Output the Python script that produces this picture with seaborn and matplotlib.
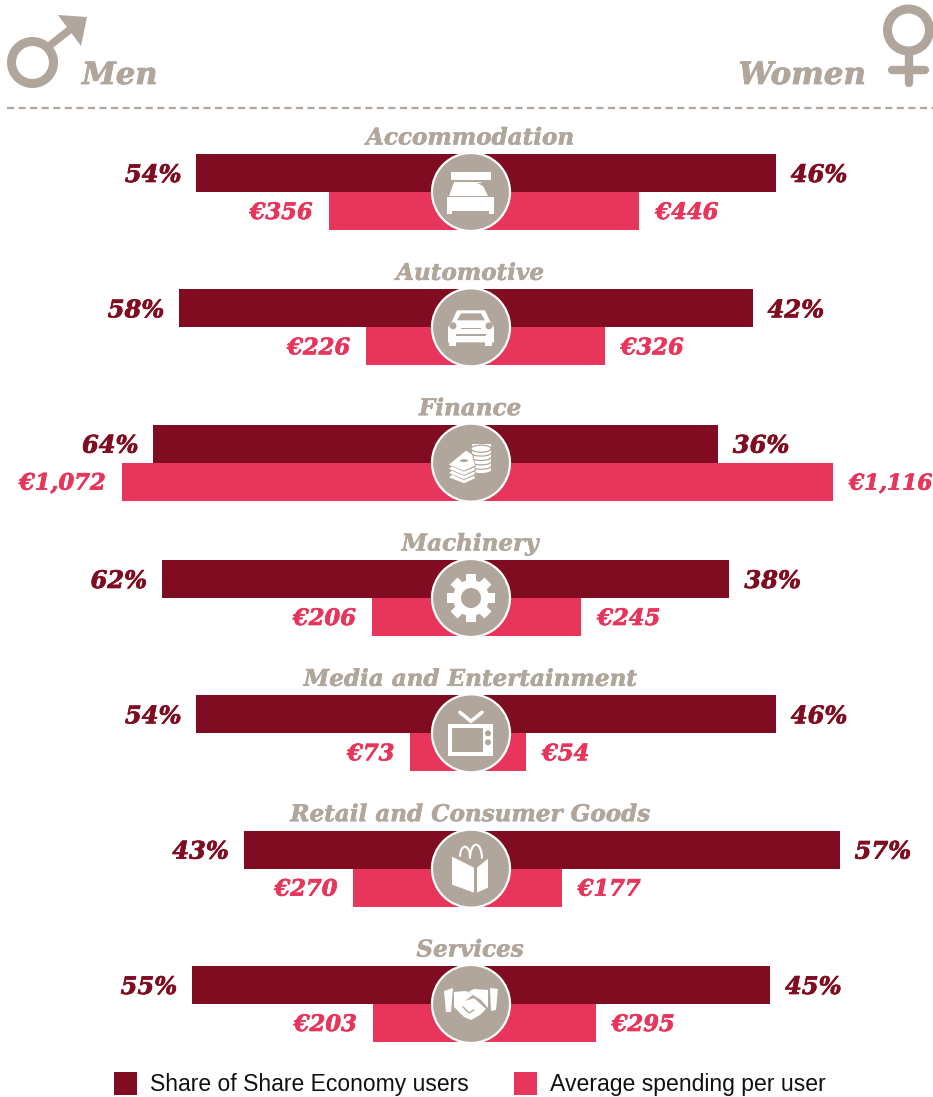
import numpy as np
import pandas as pd
import matplotlib
matplotlib.use("Agg")
import matplotlib.pyplot as plt
import matplotlib.patheffects as pe
from matplotlib.patches import Circle, Ellipse, Polygon, Rectangle, Arc
from matplotlib.transforms import Affine2D
import seaborn as sns

# data
categories = ["Accommodation", "Automotive", "Finance", "Machinery",
              "Media and Entertainment", "Retail and Consumer Goods", "Services"]
share_men = [54, 58, 64, 62, 54, 43, 55]
share_women = [46, 42, 36, 38, 46, 57, 45]
spend_men = [356, 226, 1072, 206, 73, 270, 203]
spend_women = [446, 326, 1116, 245, 54, 177, 295]
metrics = ["Share of Share Economy users", "Average spending per user"]

DARK = "#7F0C20"
PINK = "#E7355B"
TAN = "#B0A69C"
W, H = 933, 1097
CX = 471
ROW0, ROW_STEP = 192, 135.33
SERIF = dict(family="DejaVu Serif", style="italic", weight="bold")


def share_left(v):
    return -(42.5 + 4.3 * v)


def share_right(v):
    return 38 + 5.8 * v


def spend_ext(v):
    return 39.5 + 0.289 * v


def heavy(txt, color, w=0.5):
    # the reference type is a bit heavier than DejaVu Serif Bold Italic
    txt.set_path_effects([pe.withStroke(linewidth=w, foreground=color)])


sns.set_style("white")
fig = plt.figure(figsize=(W / 100, H / 100), dpi=100)
ax = fig.add_axes([0, 0, 1, 1])

# bars start at the centre and run out on both sides, the circles hide the middle
left = pd.DataFrame({
    "category": categories * 2,
    "metric": [metrics[0]] * 7 + [metrics[1]] * 7,
    "extent": [share_left(v) for v in share_men] + [-spend_ext(v) for v in spend_men],
})
right = pd.DataFrame({
    "category": categories * 2,
    "metric": [metrics[0]] * 7 + [metrics[1]] * 7,
    "extent": [share_right(v) for v in share_women] + [spend_ext(v) for v in spend_women],
})
for df in (left, right):
    sns.barplot(data=df, y="category", x="extent", hue="metric", order=categories,
                hue_order=metrics, palette=[DARK, PINK], width=76 / ROW_STEP, gap=0,
                saturation=1, errorbar=None, legend=False, linewidth=0, ax=ax)
ax.set_xlim(-CX, W - CX)
ax.set_ylim((H - ROW0) / ROW_STEP, -ROW0 / ROW_STEP)
ax.axis("off")

# value labels
off = 19 / ROW_STEP
for i in range(7):
    # the widest label has to stay inside the picture
    right_size = 15.7 if spend_women[i] >= 1000 else 16.3
    a = ax.annotate(f"{share_men[i]}%", (share_left(share_men[i]), i - off), xytext=(-15, -2),
                    textcoords="offset pixels", ha="right", va="center", color=DARK, fontsize=17.4, **SERIF)
    b = ax.annotate(f"{share_women[i]}%", (share_right(share_women[i]), i - off), xytext=(15, -2),
                    textcoords="offset pixels", ha="left", va="center", color=DARK, fontsize=17.4, **SERIF)
    c = ax.annotate(f"€{spend_men[i]:,}", (-spend_ext(spend_men[i]), i + off), xytext=(-16, -2),
                    textcoords="offset pixels", ha="right", va="center", color=PINK, fontsize=16.3, **SERIF)
    d = ax.annotate(f"€{spend_women[i]:,}", (spend_ext(spend_women[i]), i + off), xytext=(16, -2),
                    textcoords="offset pixels", ha="left", va="center", color=PINK, fontsize=right_size, **SERIF)
    heavy(a, DARK)
    heavy(b, DARK)
    heavy(c, PINK)
    heavy(d, PINK)

# second axes in picture pixels for header, icons and legend
top = fig.add_axes([0, 0, 1, 1], facecolor="none")
top.set_xlim(0, W)
top.set_ylim(H, 0)
top.axis("off")


def poly(pts, cx, cy, color="white", z=5):
    top.add_patch(Polygon([(cx + x, cy + y) for x, y in pts], closed=True, fc=color, ec="none", zorder=z))


def rect(x, y, w, h, cx, cy, color="white", z=5):
    top.add_patch(Rectangle((cx + x, cy + y), w, h, fc=color, ec="none", zorder=z))


def icon_bed(cx, cy):
    rect(-20, -20, 40, 8, cx, cy)
    poly([(-17, -10), (10, -10), (17, 4), (-22, 4)], cx, cy)
    poly([(6, -9), (11, -9), (16, -4)], cx, cy, TAN, 6)
    rect(-24, 5, 47, 14, cx, cy)
    rect(-24, 19, 5, 3, cx, cy)
    rect(18, 19, 5, 3, cx, cy)


def icon_car(cx, cy):
    poly([(-14, -17), (14, -17), (19, -6), (23, 0), (23, 15), (-23, 15), (-23, 0), (-19, -6)], cx, cy)
    poly([(-10, -14), (10, -14), (14, -7), (-14, -7)], cx, cy, TAN, 6)
    rect(-10, 0.5, 20, 1.5, cx, cy, TAN, 6)
    rect(-15, 7, 30, 1.5, cx, cy, TAN, 6)
    for sx in (-1, 1):
        top.add_patch(Circle((cx + sx * 18, cy - 1.5), 3.5, fc=TAN, ec="none", zorder=6))
        rect(sx * 18 - 4, 14, 7, 5, cx, cy)


def icon_money(cx, cy):
    # coins from the bottom up, each one shows only its lower rim
    for k in range(6):
        y = cy + 8 - k * 4.4
        z = 5 + 0.02 * k
        top.add_patch(Ellipse((cx + 10, y), 20, 6, fc="white", ec=TAN, lw=0.9, zorder=z))
        top.add_patch(Rectangle((cx + 0.5, y - 4.4), 19, 4.4, fc="white", ec="none", zorder=z + 0.01))
    top.add_patch(Ellipse((cx + 10, cy - 14), 20, 7, fc="white", ec=TAN, lw=0.9, zorder=5.5))
    for k in range(3, -1, -1):
        dy = k * 4.2
        z = 7 - 0.1 * k
        poly([(-23, 2 + dy), (-5, -13 + dy), (2, -9 + dy), (5, 4 + dy), (-7, 9 + dy)], cx, cy, TAN, z - 0.05)
        poly([(-22, 2 + dy), (-5, -12 + dy), (1, -8 + dy), (4, 3 + dy), (-7, 8 + dy)], cx, cy, "white", z)
    top.add_patch(Ellipse((cx - 7, cy - 2), 8, 3, fc=TAN, ec="none", zorder=7.5))


def icon_gear(cx, cy):
    for a in range(0, 180, 45):
        tr = Affine2D().rotate_deg_around(cx, cy, a) + top.transData
        top.add_patch(Rectangle((cx - 5, cy - 24), 10, 48, fc="white", ec="none", zorder=5, transform=tr))
    top.add_patch(Circle((cx, cy), 18, fc="white", ec="none", zorder=5))
    top.add_patch(Circle((cx, cy), 10, fc=TAN, ec="none", zorder=6))


def icon_tv(cx, cy):
    rect(-23, -9, 45, 32, cx, cy)
    rect(-19, -5, 31, 24, cx, cy, TAN, 6)
    for dy in (0, 9):
        top.add_patch(Circle((cx + 17, cy + dy), 3, fc=TAN, ec="none", zorder=6))
    top.plot([cx - 11, cx, cx + 11], [cy - 21, cy - 12, cy - 21], color="white", lw=2.6, zorder=5)


def icon_bag(cx, cy):
    poly([(-18, -12), (4, -1), (4, 24), (-18, 16)], cx - 1, cy)
    poly([(7, -1), (18, -10), (18, 19), (7, 24)], cx - 1, cy)
    top.add_patch(Arc((cx - 6, cy - 12), 10, 20, theta1=180, theta2=360, ec="white", lw=1.5, zorder=5))
    top.add_patch(Arc((cx + 5, cy - 10), 12, 28, theta1=180, theta2=360, ec="white", lw=1.5, zorder=5))


def icon_hands(cx, cy):
    poly([(-27, -13), (-18, -16), (-20, 8), (-25, 8)], cx, cy)
    poly([(27, -15), (19, -16), (20, 7), (25, 6)], cx, cy)
    poly([(-17, -12), (-5, -13), (2, -9), (-6, -3), (3, -6), (15, 5), (9, 11), (0, 16), (-7, 13), (-17, 3)], cx, cy)
    poly([(3, -15), (17, -14), (17, 4), (10, -4), (2, -9), (-3, -12)], cx, cy)
    top.plot([cx - 8, cx - 2, cx + 3], [cy + 3, cy + 9, cy + 6], color=TAN, lw=1, zorder=6)


icons = [icon_bed, icon_car, icon_money, icon_gear, icon_tv, icon_bag, icon_hands]
for i, cat in enumerate(categories):
    cy = ROW0 + i * ROW_STEP
    t = top.text(470, cy - 53.5, cat, ha="center", va="center", color=TAN, fontsize=16.6, **SERIF)
    heavy(t, TAN, 0.4)
    top.add_patch(Circle((CX, cy), 39, fc=TAN, ec="white", lw=1.6, zorder=4))
    icons[i](CX, cy)

# header: dashed rule, symbols, Men / Women
top.plot([7, W], [108, 108], color=TAN, lw=1.6, dashes=(3.2, 2))
t = top.text(82, 84, "Men", ha="left", va="baseline", color=TAN, fontsize=22, **SERIF)
heavy(t, TAN, 0.6)
t = top.text(866, 84, "Women", ha="right", va="baseline", color=TAN, fontsize=22.2, **SERIF)
heavy(t, TAN, 0.6)

top.add_patch(Circle((32.5, 62.5), 21, fc="none", ec=TAN, lw=6.5))
top.plot([49, 72], [46, 28], color=TAN, lw=5.5, solid_capstyle="butt")
poly([(58, 15), (87, 17), (81, 46)], 0, 0, TAN)

top.add_patch(Circle((908.5, 30), 21, fc="none", ec=TAN, lw=6.5))
top.plot([908.5, 908.5], [55, 83], color=TAN, lw=6, solid_capstyle="round")
top.plot([892, 925], [70, 70], color=TAN, lw=6, solid_capstyle="round")

# legend
for x, color, label, size in zip([114, 514], [DARK, PINK], metrics, [16.5, 16.6]):
    top.add_patch(Rectangle((x, 1072), 23, 23, fc=color, ec="none"))
    top.text(x + 36, 1084, label, ha="left", va="center", color="#111111",
             fontsize=size, family="Liberation Sans")

fig.savefig("out.png", dpi=100)
